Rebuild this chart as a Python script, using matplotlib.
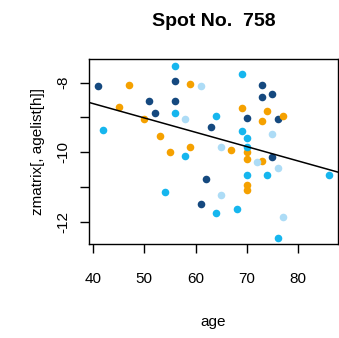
import matplotlib
matplotlib.use("Agg")
import matplotlib.pyplot as plt

plt.rcParams['font.family'] = ['Liberation Sans', 'DejaVu Sans']

# points grouped by colour
navy_age = [41, 51, 56, 56, 52, 63, 62, 61, 73, 73, 75, 70, 76, 75]
navy_val = [-8.11, -8.52, -7.96, -8.52, -8.87, -9.28, -10.77, -11.47,
            -8.07, -8.41, -8.33, -9.02, -9.05, -10.13]

orange_age = [47, 59, 45, 50, 53, 55, 59, 69, 74, 73, 77, 67, 70, 70, 73, 70, 70]
orange_val = [-8.08, -8.03, -8.71, -9.05, -9.54, -9.99, -9.85, -8.72, -8.81,
              -9.09, -8.95, -9.93, -10.0, -10.2, -10.26, -10.94, -11.09]

cyan_age = [56, 56, 42, 58, 54, 69, 64, 69, 70, 70, 70, 74, 86, 64, 68, 76]
cyan_val = [-7.53, -8.87, -9.37, -10.11, -11.13, -7.76, -8.97, -9.40, -9.58,
            -9.85, -10.66, -10.66, -10.65, -11.74, -11.63, -12.47]

light_age = [61, 58, 75, 65, 72, 76, 65, 77]
light_val = [-8.11, -9.05, -9.49, -9.86, -10.29, -10.44, -11.21, -11.85]

# regression line
intercept = -6.96
slope = -0.0411

fig = plt.figure(figsize=(3.39, 3.38), dpi=100)
ax = fig.add_axes([0.2625, 0.278, 0.7345, 0.547])

ax.scatter(navy_age, navy_val, s=30, color='#15497F', lw=0, zorder=3)
ax.scatter(orange_age, orange_val, s=30, color='#F5A100', lw=0, zorder=3)
ax.scatter(cyan_age, cyan_val, s=30, color='#16B6EE', lw=0, zorder=3)
ax.scatter(light_age, light_val, s=30, color='#ADDCF6', lw=0, zorder=3)
ax.axline((0, intercept), slope=slope, color='black', lw=1.1, zorder=4)

ax.set_xlim(39.2, 87.8)
ax.set_ylim(-12.63, -7.33)
ax.set_xticks([40, 50, 60, 70, 80])
ax.set_yticks([-8, -9, -10, -11, -12])
ax.set_yticklabels(['-8', '', '-10', '', '-12'], rotation=90, va='center')
ax.tick_params(direction='out', length=6.5, width=1, labelsize=11)
ax.tick_params(axis='x', pad=13.5)
ax.tick_params(axis='y', pad=7)

for s in ax.spines.values():
    s.set_linewidth(1)

ax.set_title('Spot No.  758', fontsize=14, fontweight='bold', pad=24)
ax.set_xlabel('age', fontsize=11, labelpad=21)
ax.set_ylabel('zmatrix[, agelist[h]]', fontsize=11, labelpad=8)

fig.savefig('out.png', dpi=100)
